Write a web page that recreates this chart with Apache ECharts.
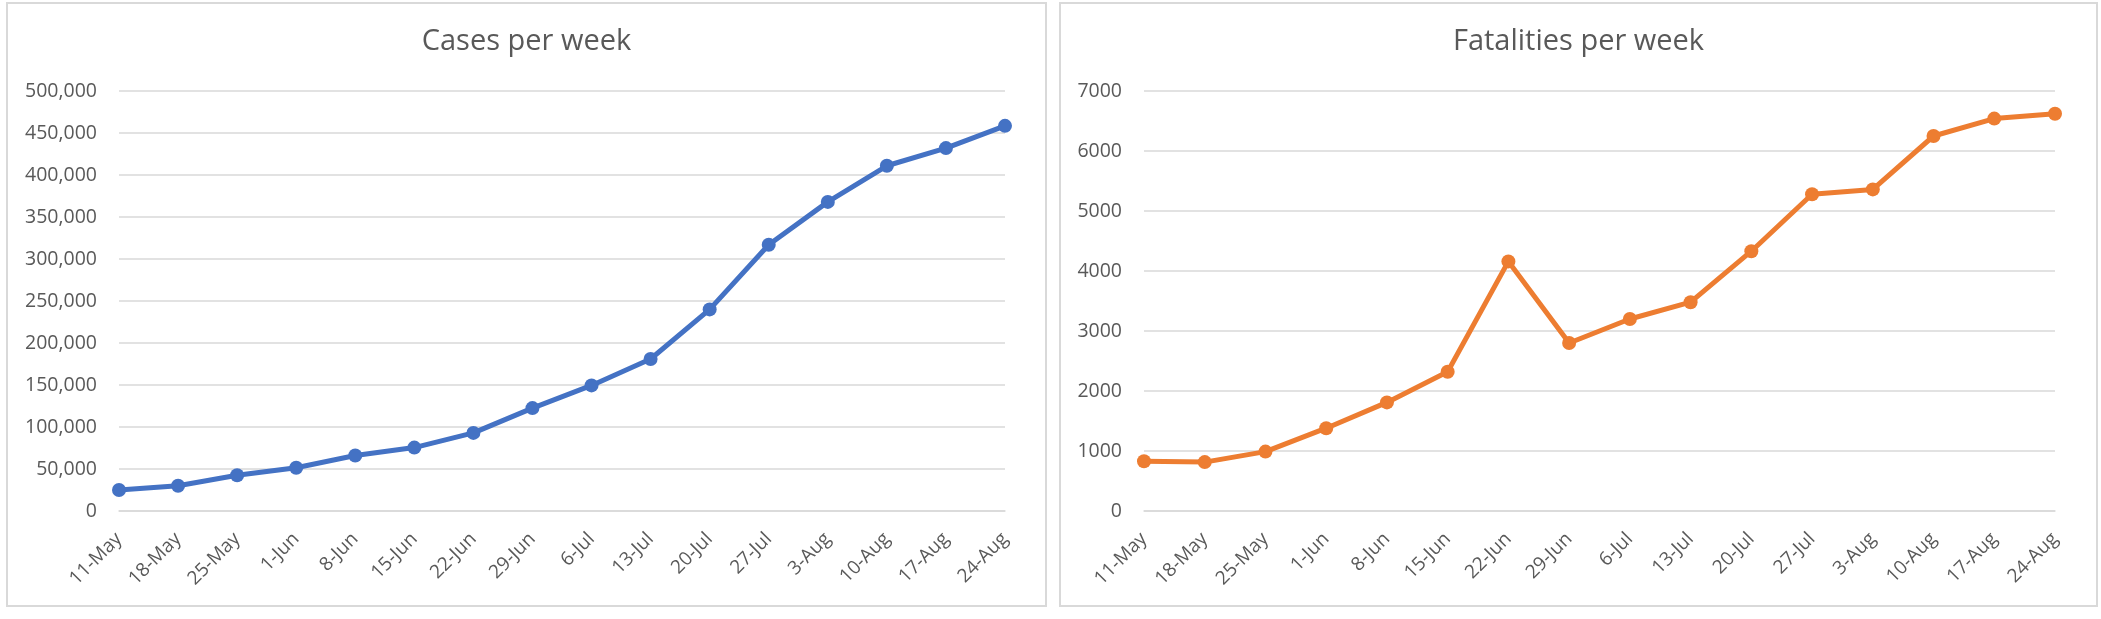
<!DOCTYPE html>
<html>
<head>
<meta charset="utf-8">
<script src="https://cdn.jsdelivr.net/npm/echarts@6/dist/echarts.min.js"></script>
<style>
  html, body { margin: 0; padding: 0; background: #ffffff; width: 2101px; height: 619px; overflow: hidden; }
  .panel { position: absolute; box-sizing: border-box; border: 2px solid #d9d9d9; background: #fff; }
  #p1 { left: 6px; top: 2px; width: 1041px; height: 605px; }
  #p2 { left: 1059px; top: 2px; width: 1039px; height: 605px; }
  .chart { position: absolute; left: 0; top: 0; width: 100%; height: 100%; }
</style>
</head>
<body>
<div class="panel" id="p1"><div class="chart" id="c1"></div></div>
<div class="panel" id="p2"><div class="chart" id="c2"></div></div>
<script>
const weeks = ["11-May","18-May","25-May","1-Jun","8-Jun","15-Jun","22-Jun","29-Jun","6-Jul","13-Jul","20-Jul","27-Jul","3-Aug","10-Aug","17-Aug","24-Aug"];
const casesPerWeek = [25000, 30000, 42500, 51500, 66000, 75500, 93000, 122500, 149500, 181000, 240000, 317000, 368000, 411000, 432000, 458500];
const fatalitiesPerWeek = [830, 815, 990, 1380, 1810, 2320, 4160, 2800, 3200, 3480, 4330, 5280, 5360, 6250, 6540, 6620];
const casesTitle = "Cases per week";
const fatalitiesTitle = "Fatalities per week";

const FONT = "Open Sans";
const TXT = "#595959";
const GRID = "#d9d9d9";

function makeOption(title, data, color, yMax, yStep, fmt, gridLeft, gridWidth) {
  return {
    animation: false,
    title: {
      text: title, left: 'center', top: 18,
      textStyle: { fontFamily: FONT, fontSize: 29, fontWeight: 'normal', color: TXT }
    },
    grid: { left: gridLeft, top: 87, width: gridWidth, height: 420 },
    xAxis: {
      type: 'category', data: weeks, boundaryGap: false,
      axisLine: { show: true, lineStyle: { color: GRID, width: 1.5 } },
      axisTick: { show: false },
      splitLine: { show: false },
      axisLabel: { rotate: 45, margin: 25, interval: 0, fontFamily: FONT, fontSize: 19, color: TXT }
    },
    yAxis: {
      type: 'value', min: 0, max: yMax, interval: yStep,
      axisLine: { show: false }, axisTick: { show: false },
      splitLine: { lineStyle: { color: GRID, width: 1.5 } },
      axisLabel: { margin: 22, fontFamily: FONT, fontSize: 19.5, color: TXT, formatter: fmt }
    },
    series: [{
      type: 'line', data: data,
      symbol: 'circle', symbolSize: 14,
      lineStyle: { color: color, width: 5 },
      itemStyle: { color: color }
    }]
  };
}

const c1 = echarts.init(document.getElementById('c1'), null, { renderer: 'canvas' });
c1.setOption(makeOption(casesTitle, casesPerWeek, '#4472C4', 500000, 50000,
  v => v.toLocaleString('en-US'), 111, 886));
const c2 = echarts.init(document.getElementById('c2'), null, { renderer: 'canvas' });
c2.setOption(makeOption(fatalitiesTitle, fatalitiesPerWeek, '#ED7D31', 7000, 1000,
  v => String(v), 83, 911));
</script>
</body>
</html>
